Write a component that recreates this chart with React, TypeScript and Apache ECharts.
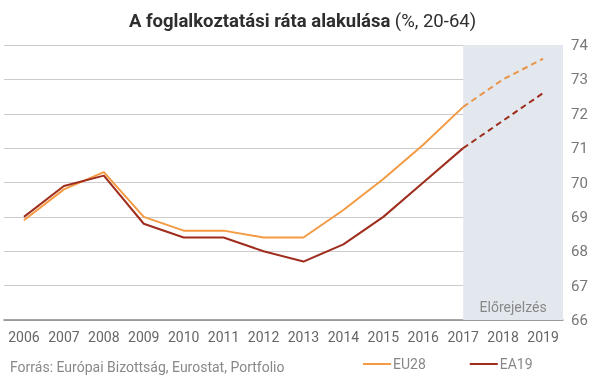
import React, { useEffect, useRef } from "react";
import * as echarts from "echarts";

const years = ["2006","2007","2008","2009","2010","2011","2012","2013","2014","2015","2016","2017","2018","2019"];
const eu28Actual = [68.9, 69.8, 70.3, 69.0, 68.6, 68.6, 68.4, 68.4, 69.2, 70.1, 71.1, 72.2, null, null];
const eu28Forecast = [null, null, null, null, null, null, null, null, null, null, null, 72.2, 73.0, 73.6];
const ea19Actual = [69.0, 69.9, 70.2, 68.8, 68.4, 68.4, 68.0, 67.7, 68.2, 69.0, 70.0, 71.0, null, null];
const ea19Forecast = [null, null, null, null, null, null, null, null, null, null, null, 71.0, 71.8, 72.6];
const forecastStart = 11;
const forecastEnd = 13.5;

const EU_COLOR = "#f39a43";
const EA_COLOR = "#9f2d1d";

export default function App() {
  const ref = useRef<HTMLDivElement>(null);
  useEffect(() => {
    if (!ref.current) return;
    const chart = echarts.init(ref.current, undefined, { renderer: "svg" });
    const font = "Roboto, 'Noto Sans', sans-serif";
    chart.setOption({
      animation: false,
      textStyle: { fontFamily: font },
      title: {
        text: "{b|A foglalkoztatási ráta alakulása} {n|(%, 20-64)}",
        left: "center",
        top: 11,
        padding: 0,
        textStyle: {
          rich: {
            b: { fontSize: 18.5, fontWeight: "bold", color: "#2e2e2e", fontFamily: font },
            n: { fontSize: 18.5, fontWeight: "normal", color: "#2e2e2e", fontFamily: font },
          },
        },
      },
      legend: {
        left: 363,
        top: 357,
        padding: 0,
        icon: "rect",
        itemWidth: 28,
        itemHeight: 2,
        itemGap: 44,
        data: ["EU28", "EA19"],
        textStyle: { color: "#888", fontSize: 14, padding: [0, 0, 0, -3] },
      },
      graphic: [
        {
          type: "text",
          left: 10,
          top: 360,
          style: { text: "Forrás: Európai Bizottság, Eurostat, Portfolio", fill: "#888", fontSize: 14, fontFamily: font },
        },
      ],
      grid: { left: 4, right: 42, top: 45, bottom: 58 },
      xAxis: [
        {
          type: "category",
          data: years,
          boundaryGap: true,
          axisLine: { lineStyle: { color: "#888", width: 1.5 } },
          axisTick: { show: false },
          axisLabel: { color: "#666", fontSize: 14, margin: 10, interval: 0 },
        },
        {
          type: "value",
          min: -0.5,
          max: 13.5,
          show: false,
        },
      ],
      yAxis: {
        type: "value",
        position: "right",
        min: 66,
        max: 74,
        interval: 1,
        axisLine: { show: false },
        axisTick: { show: false },
        splitLine: { lineStyle: { color: "#ccc", width: 1.2 } },
        axisLabel: { color: "#777", fontSize: 15, margin: 8 },
      },
      series: [
        {
          name: "forecastArea",
          type: "line",
          xAxisIndex: 1,
          data: [],
          silent: true,
          markArea: {
            silent: true,
            itemStyle: { color: "#e3e7ee" },
            label: {
              show: true,
              position: "insideBottom",
              color: "#888",
              fontSize: 14,
              distance: 6,
              fontFamily: font,
            },
            data: [[{ xAxis: forecastStart, name: "Előrejelzés" }, { xAxis: forecastEnd }]],
          },
        },
        {
          name: "EU28",
          type: "line",
          data: eu28Actual,
          symbol: "none",
          color: EU_COLOR,
          lineStyle: { color: EU_COLOR, width: 2 },
          z: 3,
        },
        {
          name: "EU28 forecast",
          type: "line",
          data: eu28Forecast,
          symbol: "none",
          color: EU_COLOR,
          lineStyle: { color: "#e8954a", width: 2, type: [6, 4] },
          z: 3,
        },
        {
          name: "EA19",
          type: "line",
          data: ea19Actual,
          symbol: "none",
          color: EA_COLOR,
          lineStyle: { color: EA_COLOR, width: 2 },
          z: 3,
        },
        {
          name: "EA19 forecast",
          type: "line",
          data: ea19Forecast,
          symbol: "none",
          color: EA_COLOR,
          lineStyle: { color: EA_COLOR, width: 2, type: [6, 4] },
          z: 3,
        },
      ],
    });
    return () => chart.dispose();
  }, []);
  return <div ref={ref} style={{ position: "fixed", left: 0, top: 0, width: 605, height: 378 }} />;
}
